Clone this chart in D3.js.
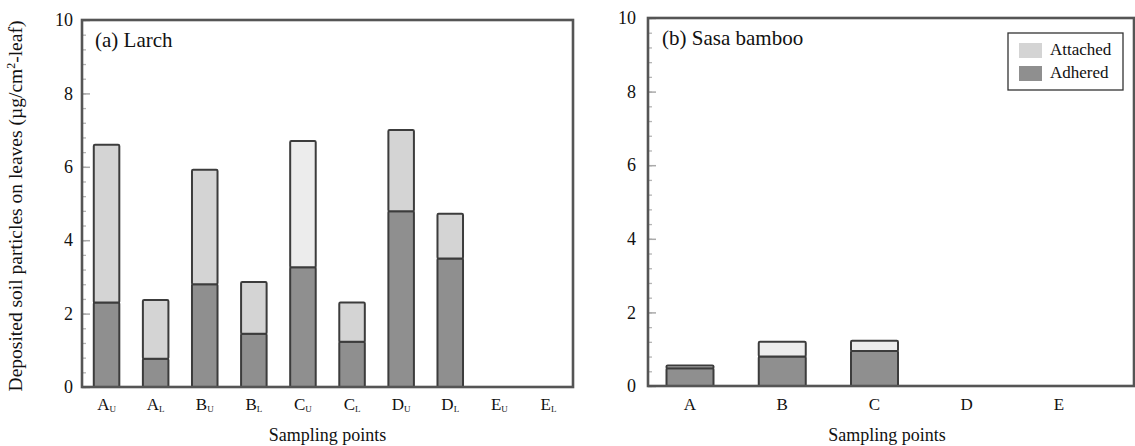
<!DOCTYPE html>
<html>
<head>
<meta charset="utf-8">
<script src="https://cdn.jsdelivr.net/npm/d3@7"></script>
<style>
  html, body { margin: 0; padding: 0; background: #fff; }
  svg { display: block; font-family: "Liberation Serif", "Times New Roman", serif; }
</style>
</head>
<body>
<svg id="chart" width="1135" height="446"></svg>
<script>
// Deposited soil particles on leaves (µg/cm²-leaf)
// (a) Larch: upper (U) and lower (L) canopy at sampling points A–E
const larchPoints    = ["A", "A", "B", "B", "C", "C", "D", "D", "E", "E"];
const larchLayers    = ["U", "L", "U", "L", "U", "L", "U", "L", "U", "L"];
const larchAdhered   = [2.30, 0.77, 2.80, 1.45, 3.26, 1.23, 4.79, 3.50, 0, 0];
const larchAttached  = [4.30, 1.60, 3.12, 1.41, 3.44, 1.07, 2.21, 1.22, 0, 0];

// (b) Sasa bamboo at sampling points A–E
const bambooPoints   = ["A", "B", "C", "D", "E"];
const bambooAdhered  = [0.48, 0.80, 0.95, 0, 0];
const bambooAttached = [0.08, 0.40, 0.28, 0, 0];

const yTicks = [0, 2, 4, 6, 8, 10];
const seriesNames = ["Attached", "Adhered"];

// Bars whose "attached" part is printed in a paler grey
const paleTop = { larch: new Set([4]), bamboo: new Set([1, 2]) };

const colAdhered = "#8f8f8f";
const colAttached = "#d4d4d4";
const colPale = "#ececec";
const colEdge = "#3c3c3c";
const colFrame = "#555";
const serif = "'Liberation Serif', 'Times New Roman', serif";

const svg = d3.select("#chart");

function panel(opts) {
  const { x0, x1, yTop, yBot, labels, adhered, attached, pale, title, xScale, barW } = opts;
  const y = d3.scaleLinear().domain([0, 10]).range([yBot, yTop]);
  const g = svg.append("g");

  // minor ticks
  g.append("g")
    .attr("transform", `translate(${x0},0)`)
    .call(d3.axisLeft(y).tickValues(d3.range(0, 10.001, 0.4)).tickSize(-4).tickFormat(""))
    .call(s => s.select(".domain").remove())
    .call(s => s.selectAll("line").attr("stroke", "#b5b5b5").attr("stroke-width", 1.3));

  // major ticks and labels
  g.append("g")
    .attr("transform", `translate(${x0},0)`)
    .call(d3.axisLeft(y).tickValues(yTicks).tickSize(-8).tickPadding(opts.tickPad))
    .attr("font-family", serif)
    .call(s => s.select(".domain").remove())
    .call(s => s.selectAll("line").attr("stroke", "#aaa").attr("stroke-width", 1.5))
    .call(s => s.selectAll("text")
      .attr("fill", "#111")
      .style("font-size", "18px")
      .style("font-family", serif));

  // stacked bars
  const stackData = labels.map((_, i) => ({ i, Adhered: adhered[i], Attached: attached[i] }));
  const stacked = d3.stack().keys(["Adhered", "Attached"])(stackData);
  stacked.forEach(layer => {
    g.append("g").selectAll("rect")
      .data(layer.filter(d => d[1] - d[0] > 0))
      .join("rect")
      .attr("x", d => xScale(d.data.i) - barW / 2)
      .attr("width", barW)
      .attr("y", d => y(d[1]))
      .attr("height", d => y(d[0]) - y(d[1]))
      .attr("rx", 1.2)
      .attr("fill", d => layer.key === "Adhered" ? colAdhered : (pale.has(d.data.i) ? colPale : colAttached))
      .attr("stroke", colEdge)
      .attr("stroke-width", 2);
  });

  // frame
  g.append("rect")
    .attr("x", x0).attr("y", yTop)
    .attr("width", x1 - x0).attr("height", yBot - yTop)
    .attr("fill", "none")
    .attr("stroke", colFrame)
    .attr("stroke-width", 2.6);

  // panel title
  g.append("text")
    .attr("x", opts.titleX).attr("y", yTop + 27)
    .style("font-size", "21px")
    .attr("fill", "#111")
    .text(title);

  // x-axis title
  g.append("text")
    .attr("x", (x0 + x1) / 2 + opts.xTitleShift).attr("y", 441)
    .attr("text-anchor", "middle")
    .style("font-size", "18px")
    .attr("fill", "#111")
    .text("Sampling points");

  return { g, y };
}

// ---- (a) Larch ----
const aX0 = 82, aX1 = 573;
const xa = d3.scaleBand().domain(d3.range(larchPoints.length)).range([aX0, aX1]).padding(0);
const xaC = i => xa(i) + xa.bandwidth() / 2;
const pa = panel({
  x0: aX0, x1: aX1, yTop: 20, yBot: 387,
  labels: larchPoints, adhered: larchAdhered, attached: larchAttached,
  pale: paleTop.larch, title: "(a) Larch", titleX: 95,
  xScale: xaC, barW: xa.bandwidth() * 0.52, tickPad: 9, xTitleShift: 0
});
larchPoints.forEach((p, i) => {
  const t = pa.g.append("text")
    .attr("x", xaC(i)).attr("y", 410)
    .attr("text-anchor", "middle")
    .style("font-size", "17px")
    .attr("fill", "#111");
  t.append("tspan").text(p);
  t.append("tspan").attr("dy", 2).style("font-size", "9px").text(larchLayers[i]);
});

// ---- (b) Sasa bamboo ----
const bX0 = 648, bX1 = 1134;
const xb = d3.scalePoint().domain(d3.range(bambooPoints.length)).range([bX0 + 42, bX0 + 411]);
const pb = panel({
  x0: bX0, x1: bX1, yTop: 18, yBot: 386,
  labels: bambooPoints, adhered: bambooAdhered, attached: bambooAttached,
  pale: paleTop.bamboo, title: "(b) Sasa bamboo", titleX: 662,
  xScale: i => xb(i), barW: 47, tickPad: 12, xTitleShift: -4
});
bambooPoints.forEach((p, i) => {
  pb.g.append("text")
    .attr("x", xb(i)).attr("y", 410)
    .attr("text-anchor", "middle")
    .style("font-size", "17px")
    .attr("fill", "#111")
    .text(p);
});

// legend
const lg = svg.append("g").attr("transform", "translate(1008,33)");
lg.append("rect").attr("width", 115).attr("height", 57)
  .attr("fill", "#fff").attr("stroke", "#333").attr("stroke-width", 1.3);
seriesNames.forEach((name, i) => {
  lg.append("rect").attr("x", 11).attr("y", 10 + i * 23).attr("width", 23).attr("height", 15)
    .attr("fill", name === "Adhered" ? colAdhered : colAttached);
  lg.append("text").attr("x", 42).attr("y", 22 + i * 23)
    .style("font-size", "17px").attr("fill", "#111").text(name);
});

// y-axis title
svg.append("text")
  .attr("transform", "translate(22,206) rotate(-90)")
  .attr("text-anchor", "middle")
  .style("font-size", "19.5px")
  .attr("fill", "#111")
  .call(t => {
    t.append("tspan").text("Deposited soil particles on leaves (µg/cm");
    t.append("tspan").attr("dy", -7).style("font-size", "12px").text("2");
    t.append("tspan").attr("dy", 7).text("-leaf)");
  });
</script>
</body>
</html>
